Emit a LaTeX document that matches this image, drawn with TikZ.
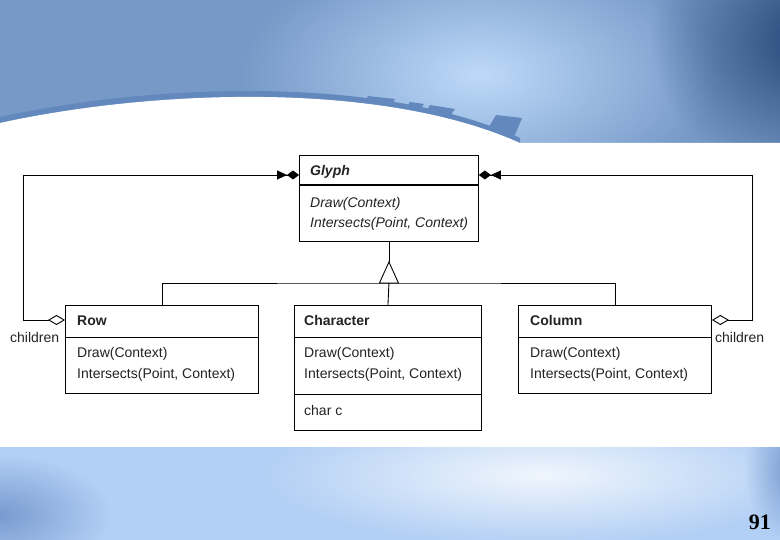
\documentclass[tikz,border=0pt]{standalone}
\usepackage{fontspec}
\setmainfont{Liberation Sans}
\newfontfamily\pagefont{Liberation Serif}
\usetikzlibrary{arrows.meta,fadings}
\tikzfading[name=softglow, inner color=transparent!0, outer color=transparent!100]
\definecolor{topbase}{RGB}{118,153,199}
\definecolor{topbright}{RGB}{190,218,250}
\definecolor{topdark}{RGB}{35,70,120}
\definecolor{stripe}{RGB}{98,136,190}
\definecolor{botbase}{RGB}{178,207,245}
\definecolor{botbright}{RGB}{240,246,253}
\definecolor{botdark}{RGB}{120,155,208}
\definecolor{ink}{RGB}{35,35,35}
\begin{document}
\begin{tikzpicture}[x=1pt,y=-1pt,
  umlbox/.style={draw=black, line width=0.9pt, fill=white, rectangle, inner sep=0pt, anchor=north west},
  txt/.style={anchor=base west, inner sep=0pt, font=\fontsize{14}{16}\selectfont, text=ink},
  conn/.style={line width=0.9pt, draw=black},
  aggr/.style={conn, {Diamond[open,length=17pt,width=10pt]}-{Triangle[length=10pt,width=9pt]Diamond[length=12pt,width=9pt]}}
]
\useasboundingbox (0,0) rectangle (780,540);
% ---------- background ----------
\begin{scope}
\clip (0,0) rectangle (780,146);
\fill[topbase] (0,0) rectangle (780,146);
\fill[topbright, path fading=softglow] (480,75) ellipse [x radius=240, y radius=130];
\fill[topdark, path fading=softglow] (810,40) ellipse [x radius=160, y radius=140];
\end{scope}
\fill[stripe] (0,117) .. controls (150,84) and (380,74) .. (520,138) -- (520,146) -- (0,146) -- cycle;
\fill[stripe] (368,96) -- (395,99) -- (388,112) -- (362,108) -- cycle;
\fill[stripe] (410,102) -- (424,104) -- (414,118) -- (401,115) -- cycle;
\fill[stripe] (430,105) -- (455,109) -- (444,124) -- (421,119) -- cycle;
\fill[stripe] (496,115) -- (522,118) -- (512,142) -- (483,137) -- cycle;
\fill[white] (0,123) .. controls (150,90) and (380,80) .. (520,143) -- (780,143) -- (780,447) -- (0,447) -- cycle;
\begin{scope}
\clip (0,447) rectangle (780,540);
\fill[botbase] (0,447) rectangle (780,540);
\fill[botbright, path fading=softglow] (540,475) ellipse [x radius=280, y radius=70];
\fill[botdark, path fading=softglow] (0,515) ellipse [x radius=110, y radius=60];
\fill[botdark, path fading=softglow] (790,470) ellipse [x radius=45, y radius=70];
\end{scope}
% ---------- classes ----------
\node[umlbox, minimum width=179pt, minimum height=86pt] (glyph) at (299,155) {};
\draw[line width=1.4pt] (glyph.north west) ++(0,30) -- ++(179,0);
\node[txt, font=\fontsize{14}{16}\selectfont\bfseries\itshape] (glyphname) at (310,176) {Glyph};
\node[txt, font=\fontsize{14}{16}\selectfont\itshape] (glyphm1) at (310,208) {Draw(Context)};
\node[txt, font=\fontsize{14}{16}\selectfont\itshape] (glyphm2) at (310,228) {Intersects(Point, Context)};

\node[umlbox, minimum width=193pt, minimum height=88pt] (row) at (65,305) {};
\draw[line width=0.9pt] (row.north west) ++(0,32) -- ++(193,0);
\node[txt, font=\fontsize{14}{16}\selectfont\bfseries] (rowname) at (77,326) {Row};
\node[txt] (rowm1) at (77,358) {Draw(Context)};
\node[txt] (rowm2) at (77,379) {Intersects(Point, Context)};

\node[umlbox, minimum width=187pt, minimum height=125pt] (character) at (294,305) {};
\draw[line width=0.9pt] (character.north west) ++(0,32) -- ++(187,0);
\draw[line width=0.9pt] (character.north west) ++(0,89) -- ++(187,0);
\node[txt, font=\fontsize{14}{16}\selectfont\bfseries] (charname) at (304,326) {Character};
\node[txt] (charm1) at (304,358) {Draw(Context)};
\node[txt] (charm2) at (304,379) {Intersects(Point, Context)};
\node[txt] (charattr) at (304,415) {char c};

\node[umlbox, minimum width=193pt, minimum height=88pt] (column) at (518,305) {};
\draw[line width=0.9pt] (column.north west) ++(0,32) -- ++(193,0);
\node[txt, font=\fontsize{14}{16}\selectfont\bfseries] (colname) at (530,326) {Column};
\node[txt] (colm1) at (530,358) {Draw(Context)};
\node[txt] (colm2) at (530,379) {Intersects(Point, Context)};
% ---------- inheritance ----------
\coordinate (apex) at (glyph.south |- 0,262);
\coordinate (bus) at (glyph.south |- 0,283);
\draw[conn] (glyph.south) -- (apex);
\draw[conn, fill=white] (apex) -- ++(-9.5,21) -- ++(19,0) -- cycle;
\draw[conn] (row.north) |- (bus) -| (column.north);
\draw[conn] (bus) -- (character.north);
% ---------- aggregations ----------
\coordinate (lturn) at (23,175);
\coordinate (rturn) at (752,175);
\draw[aggr] ([yshift=-15pt]row.north west) -| (lturn) -- ([yshift=-20pt]glyph.north west);
\draw[aggr] ([yshift=-15pt]column.north east) -| (rturn) -- ([yshift=-20pt]glyph.north east);
\node[txt] (childl) at (10,343) {children};
\node[txt] (childr) at (715,343) {children};
% ---------- page number ----------
\node[anchor=base east, inner sep=0pt, font=\pagefont\fontsize{22}{24}\selectfont\bfseries] (pagenum) at (771,529) {91};
\end{tikzpicture}
\end{document}
